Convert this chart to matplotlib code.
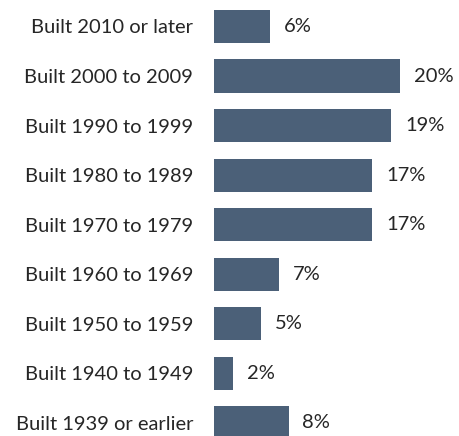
import matplotlib
matplotlib.use("Agg")
import matplotlib.pyplot as plt

categories = [
    "Built 2010 or later",
    "Built 2000 to 2009",
    "Built 1990 to 1999",
    "Built 1980 to 1989",
    "Built 1970 to 1979",
    "Built 1960 to 1969",
    "Built 1950 to 1959",
    "Built 1940 to 1949",
    "Built 1939 or earlier",
]
shares = [6, 20, 19, 17, 17, 7, 5, 2, 8]

BAR_COLOR = "#4b6078"
TEXT_COLOR = "#262626"

plt.rcParams["font.family"] = ["Lato", "DejaVu Sans"]

fig = plt.figure(figsize=(4.59, 4.36), dpi=100)
ax = fig.add_axes([214 / 459, 0, 245 / 459, 1])

ypos = list(range(len(categories)))
ax.barh(ypos, shares, height=0.667, color=BAR_COLOR)

for y, v in zip(ypos, shares):
    ax.annotate(f"{v}%", (v, y), xytext=(10, 0), textcoords="offset points",
                va="center", ha="left", fontsize=14.5, color=TEXT_COLOR)

ax.set_xlim(0, 26.3)
ax.set_ylim(8.27, -0.535)
ax.set_yticks(ypos)
ax.set_yticklabels(categories, fontsize=14.5, color=TEXT_COLOR)
ax.tick_params(axis="y", length=0, pad=15)
ax.set_xticks([])
for s in ax.spines.values():
    s.set_visible(False)

fig.savefig("out.png", dpi=100)
